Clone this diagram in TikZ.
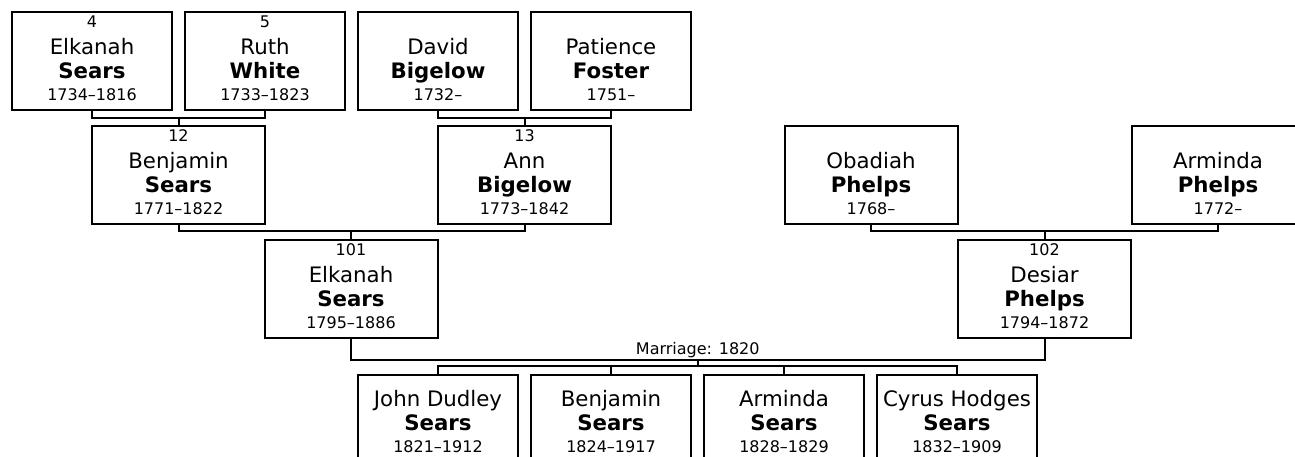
\documentclass[tikz,border=0pt]{standalone}
\usepackage{fontspec}
\setmainfont{DejaVu Sans}
\usetikzlibrary{positioning}

\newcommand{\smallsz}{\fontsize{16}{19}\selectfont}
\newcommand{\idno}[1]{{\smallsz\vphantom{0}#1}}
\newcommand{\years}[1]{{\smallsz #1\rule[-5pt]{0pt}{5pt}}}

\begin{document}
\begin{tikzpicture}[
  x=1pt, y=-1pt,
  node distance=11pt,
  person/.style={draw, line width=2pt, inner sep=0pt, align=center,
                 minimum width=160pt, minimum height=98pt,
                 font=\fontsize{21.3}{24}\selectfont},
  wide/.style={person, minimum width=173pt},
  link/.style={line width=2pt},
  lab/.style={font=\smallsz, inner sep=1pt, anchor=south}
]
\useasboundingbox (0,0) rectangle (1295,456);
\clip (0,0) rectangle (1295,456);

% great-grandparents
\node[person] (p4) at (92,61) {\idno{4}\\[3pt]Elkanah\\\textbf{Sears}\\[-2pt]\years{1734–1816}};
\node[person, right=of p4] (p5) {\idno{5}\\[3pt]Ruth\\\textbf{White}\\[-2pt]\years{1733–1823}};
\node[person, right=of p5] (dbig) {\idno{}\\[3pt]David\\\textbf{Bigelow}\\[-2pt]\years{1732–}};
\node[person, right=of dbig] (pfos) {\idno{}\\[3pt]Patience\\\textbf{Foster}\\[-2pt]\years{1751–}};

% grandparents
\node[wide] (p12) at (178.5,175) {\idno{12}\\[3pt]Benjamin\\\textbf{Sears}\\[-2pt]\years{1771–1822}};
\node[wide] (p13) at (524.5,175) {\idno{13}\\[3pt]Ann\\\textbf{Bigelow}\\[-2pt]\years{1773–1842}};
\node[wide] (ophe) at (871,175) {\idno{}\\[3pt]Obadiah\\\textbf{Phelps}\\[-2pt]\years{1768–}};
\node[wide] (aphe) at (1218,175) {\idno{}\\[3pt]Arminda\\\textbf{Phelps}\\[-2pt]\years{1772–}};

% parents
\node[wide] (p101) at (351,288.5) {\idno{101}\\[3pt]Elkanah\\\textbf{Sears}\\[-2pt]\years{1795–1886}};
\node[wide] (p102) at (1044.5,289) {\idno{102}\\[3pt]Desiar\\\textbf{Phelps}\\[-2pt]\years{1794–1872}};

% children
\node[person] (c1) at (438,424) {John Dudley\\\textbf{Sears}\\[-2pt]\years{1821–1912}};
\node[person, right=of c1] (c2) {Benjamin\\\textbf{Sears}\\[-2pt]\years{1824–1917}};
\node[person, right=of c2] (c3) {Arminda\\\textbf{Sears}\\[-2pt]\years{1828–1829}};
\node[person, right=of c3] (c4) {Cyrus Hodges\\\textbf{Sears}\\[-2pt]\years{1832–1909}};

% family lines
\draw[link] (p4.south) -- ++(0,7) coordinate (j12) -| (p5.south);
\draw[link] (p12.north) -- (p12.north |- j12);
\draw[link] (dbig.south) -- ++(0,7) coordinate (j13) -| (pfos.south);
\draw[link] (p13.north) -- (p13.north |- j13);
\draw[link] (p12.south) -- ++(0,6) coordinate (j101) -| (p13.south);
\draw[link] (p101.north) -- (p101.north |- j101);
\draw[link] (ophe.south) -- ++(0,6) coordinate (j102) -| (aphe.south);
\draw[link] (p102.north) -- (p102.north |- j102);

% marriage and children
\draw[link] (p101.south) -- ++(0,21) coordinate (wed) -| (p102.south);
\path (wed) -- (wed -| p102.south) node[lab, midway] (mlab) {Marriage: 1820};
\draw[link] (c1.north) -- ++(0,-8) coordinate (kids) -| (c4.north);
\draw[link] (c2.north) -- (c2.north |- kids);
\draw[link] (c3.north) -- (c3.north |- kids);
\draw[link] (mlab.south) -- (mlab.south |- kids);

\end{tikzpicture}
\end{document}
